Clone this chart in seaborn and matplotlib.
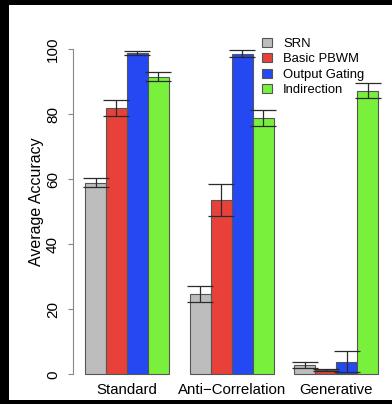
import pandas as pd
import matplotlib
matplotlib.use("Agg")
import matplotlib.pyplot as plt
from matplotlib.patches import Rectangle
import seaborn as sns

# Data
tasks = ["Standard", "Anti\u2212Correlation", "Generative"]
models = ["SRN", "Basic PBWM", "Output Gating", "Indirection"]
srn = [59.0, 24.7, 2.9]
srn_err = [1.5, 2.4, 0.85]
pbwm = [82.0, 53.6, 1.2]
pbwm_err = [2.5, 4.9, 0.3]
gating = [98.8, 98.7, 3.9]
gating_err = [0.7, 1.0, 3.3]
indirection = [91.6, 78.8, 87.3]
indirection_err = [1.4, 2.5, 2.3]
colors = ["#BDBDBD", "#E8413A", "#2448F2", "#78F03C"]

values = [srn, pbwm, gating, indirection]
errors = [srn_err, pbwm_err, gating_err, indirection_err]

# Long table for seaborn
rows = []
for m, vals in zip(models, values):
    for t, v in zip(tasks, vals):
        rows.append({"task": t, "model": m, "acc": v})
data = pd.DataFrame(rows)

sns.set_style("white")
plt.rcParams["font.family"] = ["Liberation Sans", "DejaVu Sans"]
plt.rcParams["text.color"] = "black"
plt.rcParams["axes.labelcolor"] = "black"
plt.rcParams["xtick.color"] = "black"
plt.rcParams["ytick.color"] = "black"

fig = plt.figure(figsize=(3.92, 4.04), dpi=100, facecolor="black")
fig.add_artist(Rectangle((9 / 392, 4 / 404), 1 - 9 / 392, 395 / 404,
                         transform=fig.transFigure, facecolor="white",
                         edgecolor="none", zorder=-10))
ax = fig.add_axes([73.3 / 392, 26.4 / 404, 316.7 / 392, 341.3 / 404])
ax.set_facecolor("none")

sns.barplot(
    data=data, x="task", y="acc", hue="model",
    order=tasks, hue_order=models, palette=colors,
    saturation=1, errorbar=None, width=0.8,
    edgecolor="#555555", linewidth=0.8, ax=ax
)

# Error bars on top of each bar
for cont, vals, errs in zip(ax.containers, values, errors):
    xs = [b.get_x() + b.get_width() / 2 for b in cont]
    ax.errorbar(xs, vals, yerr=errs, fmt="none", ecolor="#2b2b2b",
                elinewidth=0.9, capsize=9.5, capthick=0.9, zorder=5)

ax.set_xlim(-0.512, 2.512)
ax.set_ylim(-1, 104)
ax.set_yticks([0, 20, 40, 60, 80, 100])
for s in ["top", "right", "bottom"]:
    ax.spines[s].set_visible(False)
ax.spines["left"].set_bounds(0, 100)
ax.spines["left"].set_color("#888888")
ax.spines["left"].set_linewidth(0.8)
ax.tick_params(axis="y", length=3.6, width=0.8, color="#888888",
               labelcolor="black", pad=6, labelsize=11, left=True)
ax.tick_params(axis="x", length=0, pad=4, labelsize=10.8,
               labelcolor="black")
for lab in ax.get_yticklabels():
    lab.set_rotation(90)
    lab.set_va("center")

ax.set_xlabel("")
ax.set_ylabel("Average Accuracy", fontsize=11.5, va="center", color="black")
ax.yaxis.set_label_coords(-0.1156, 0.515)

handles, labels = ax.get_legend_handles_labels()
leg = ax.legend(handles, labels, loc="upper left",
                bbox_to_anchor=(262 / 392, 1 - 38 / 404),
                bbox_transform=fig.transFigure, frameon=False,
                fontsize=9.4, borderpad=0, borderaxespad=0,
                handlelength=0.77, handleheight=0.65, handletextpad=0.84,
                labelspacing=0.26)
for t in leg.get_texts():
    t.set_color("black")

fig.savefig("out.png", dpi=100, facecolor="black")
